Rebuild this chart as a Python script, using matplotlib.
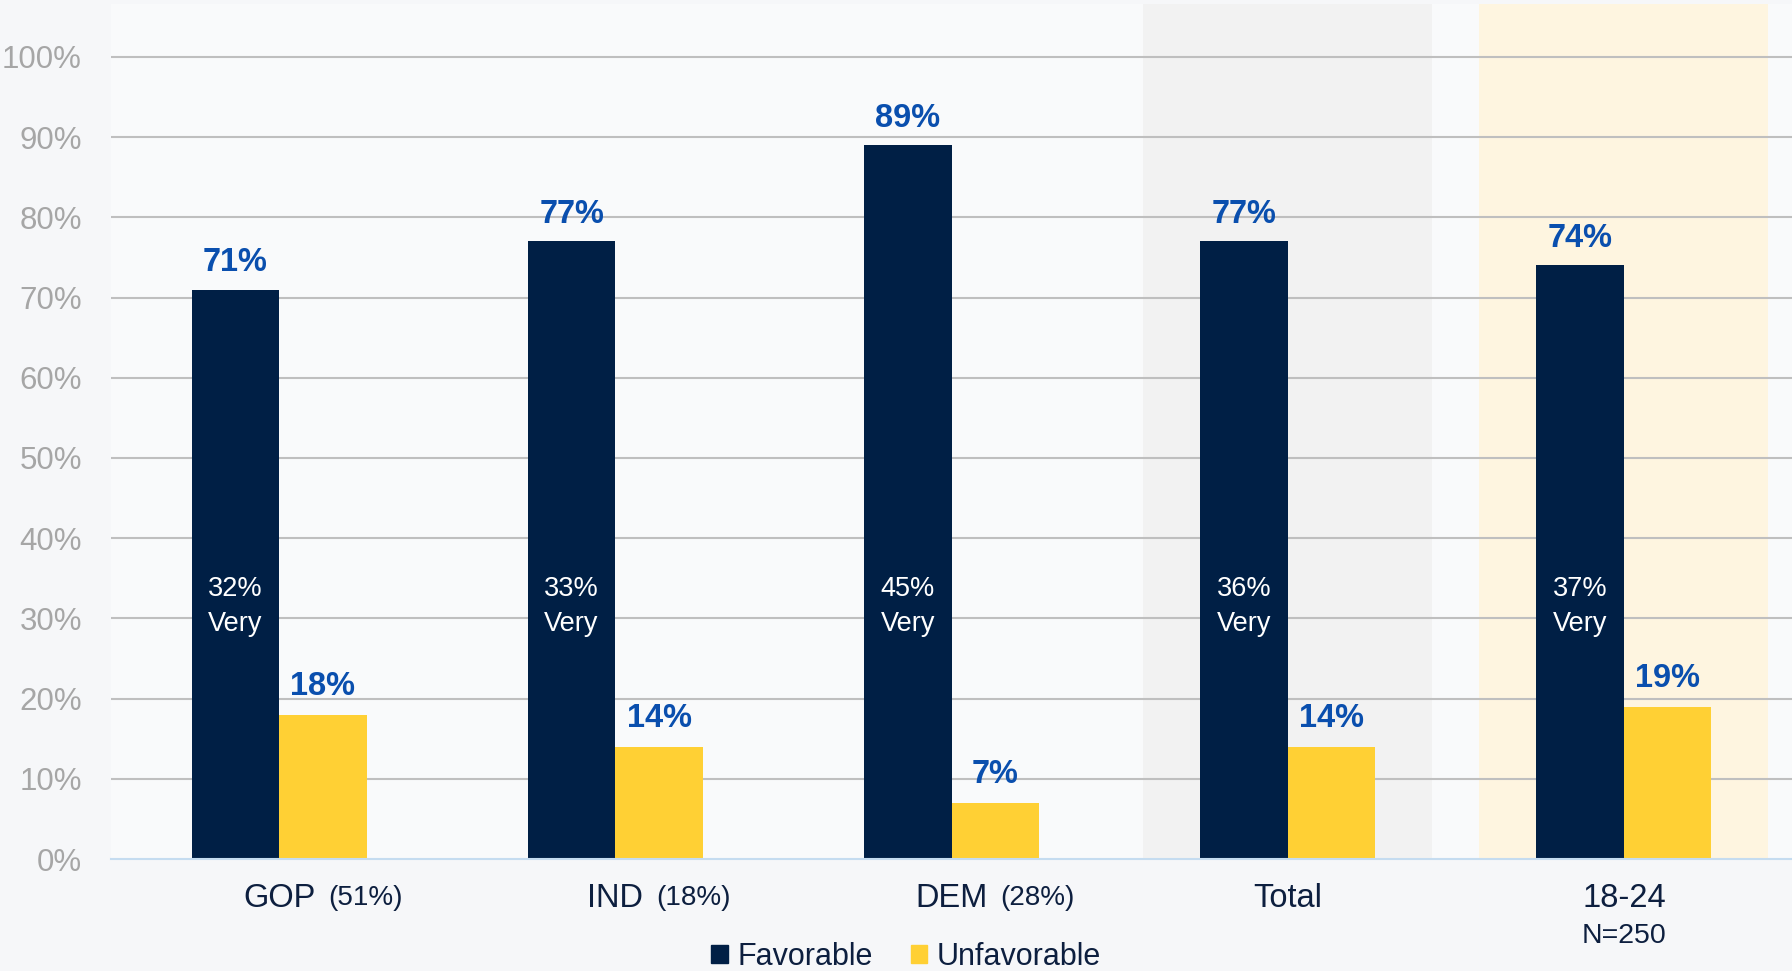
import matplotlib.pyplot as plt
from matplotlib.patches import Patch

# Данные с графика
groups = ['GOP', 'IND', 'DEM', 'Total', '18-24']
shares = ['(51%)', '(18%)', '(28%)', '', '']
favorable = [71, 77, 89, 77, 74]
unfavorable = [18, 14, 7, 14, 19]
very = [32, 33, 45, 36, 37]
yticks = [0, 10, 20, 30, 40, 50, 60, 70, 80, 90, 100]

navy = '#001f45'
gold = '#ffd034'
blue_lbl = '#0a4fae'
dark_txt = '#0d1f3f'

plt.rcParams['font.family'] = ['Liberation Sans', 'DejaVu Sans']

fig = plt.figure(figsize=(17.92, 9.71), dpi=100, facecolor='#f6f7f9')
ax = fig.add_axes([111 / 1792, 112 / 971, 1 - 111 / 1792, 855 / 971])
ax.set_facecolor('#f9fafb')

# подсветка столбцов Total и 18-24
ax.axvspan(3 - 0.43, 3 + 0.43, color='#f2f2f2', zorder=0, lw=0)
ax.axvspan(4 - 0.43, 4 + 0.43, color='#fef5e0', zorder=0, lw=0)

w = 0.26
x = list(range(len(groups)))
ax.bar([i - w / 2 for i in x], favorable, w, color=navy, zorder=2)
ax.bar([i + w / 2 for i in x], unfavorable, w, color=gold, zorder=2)

for i in x:
    ax.annotate(f'{favorable[i]}%', (i - w / 2, favorable[i]), xytext=(0, 13),
                textcoords='offset points', ha='center', va='baseline',
                fontsize=23.5, fontweight='bold', color=blue_lbl)
    ax.annotate(f'{unfavorable[i]}%', (i + w / 2, unfavorable[i]), xytext=(0, 14),
                textcoords='offset points', ha='center', va='baseline',
                fontsize=23.5, fontweight='bold', color=blue_lbl)
    ax.text(i - w / 2, 31.5, f'{very[i]}%\nVery', ha='center', va='center',
            fontsize=19.5, color='white', linespacing=1.45, zorder=3)
    name = ax.text(i, -6.0, groups[i], ha='center', va='baseline',
                   fontsize=23.5, color=dark_txt, clip_on=False)
    if shares[i]:
        ax.annotate(shares[i], xy=(1, 0), xycoords=name, xytext=(9, 2),
                    textcoords='offset points', ha='left', va='bottom',
                    fontsize=20, color=dark_txt)

ax.text(4, -9.6, 'N=250', ha='center', va='center', fontsize=20.5,
        color=dark_txt, clip_on=False)

ax.set_xlim(-0.5, 4.5)
ax.set_ylim(0, 106.6)
ax.set_yticks(yticks)
ax.set_yticklabels([f'{t}%' for t in yticks])
ax.tick_params(axis='y', length=0, pad=21, labelsize=22.5, labelcolor='#a6a6a6')
ax.set_xticks([])
for t in yticks[1:]:
    ax.axhline(t, color='#bfbfbf', lw=1.5, zorder=1)
for s in ['top', 'right', 'left']:
    ax.spines[s].set_visible(False)
ax.spines['bottom'].set_color('#c5dcf0')
ax.spines['bottom'].set_linewidth(1.5)
ax.spines['bottom'].set_zorder(4)

handles = [Patch(color=navy, label='Favorable'), Patch(color=gold, label='Unfavorable')]
fig.legend(handles=handles, loc='center', bbox_to_anchor=(906 / 1792, 14 / 971),
           ncol=2, frameon=False, fontsize=22, handlelength=0.55, handleheight=0.55,
           handletextpad=0.3, columnspacing=1.25, borderpad=0, labelcolor=dark_txt)

plt.savefig('out.png', dpi=100, facecolor=fig.get_facecolor())
